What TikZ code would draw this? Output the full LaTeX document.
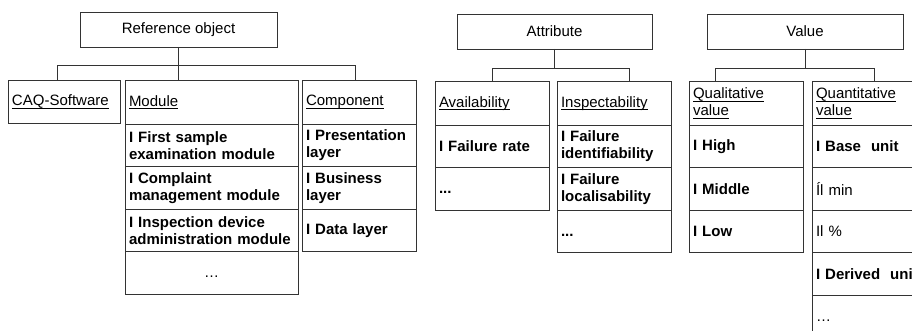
\documentclass[tikz,border=0pt]{standalone}
\usepackage{fontspec}
\setmainfont{Liberation Sans}
\usetikzlibrary{positioning}
% underline at a fixed depth
\newcommand{\uln}[1]{\vtop{\hbox{\raisebox{0pt}[\height][0pt]{#1}}\kern2pt\hrule height 0.7pt}}
\tikzset{
    %Define style for the boxes on top
    topbox/.style={
           rectangle,
           draw=black!80, line width=0.8pt,
           minimum width=#1,
           minimum height=35pt,
           outer sep=0pt,
           font=\fontsize{15}{17}\selectfont,
           text centered},
    %Define style for the column heads
    head/.style={
           rectangle,
           draw=black!80, line width=0.8pt,
           text width=#1,
           minimum height=44pt,
           inner xsep=4pt, inner ysep=2pt,
           outer sep=0pt,
           anchor=north west,
           font=\fontsize{15}{17}\selectfont,
           align=left},
    %Define style for the entries
    item/.style={
           rectangle,
           draw=black!80, line width=0.8pt,
           text width=#1,
           minimum height=42.5pt,
           inner xsep=4pt, inner ysep=2pt,
           outer sep=0pt,
           font=\fontsize{15}{17}\selectfont\bfseries,
           align=left},
    % Define line style
    link/.style={
           draw=black!80,
           line width=0.8pt}
}

\begin{document}
\begin{tikzpicture}[x=1pt,y=1pt, plain/.style={font=\fontsize{15}{17}\selectfont}]
\useasboundingbox (0,0) rectangle (912,-331);
\clip (0,0) rectangle (912,-331);
% top
\node[topbox=197pt, anchor=north west](ref) at (80,-12){Reference object};
\node[topbox=195pt, anchor=north west](attr) at (457,-14){Attribute};
\node[topbox=196pt, anchor=north west](val) at (707,-14){Value};
% reference object
\node[head=104pt, minimum height=43pt](caq) at (8,-80){\uln{CAQ-Software}};
\node[head=165pt](mod) at (125,-80){\uln{Module}};
\node[item=165pt, below=0pt of mod](mod1){I First sample\\examination module};
\node[item=165pt, below=0pt of mod1](mod2){I Complaint\\management module};
\node[item=165pt, below=0pt of mod2](mod3){I Inspection device\\administration module};
\node[item=165pt, below=0pt of mod3, plain, align=center](mod4){\vphantom{I}\ldots};
\node[head=106pt](comp) at (302,-80){\uln{Component}};
\node[item=106pt, below=0pt of comp](comp1){I Presentation\\layer};
\node[item=106pt, below=0pt of comp1](comp2){I Business\\layer};
\node[item=106pt, below=0pt of comp2](comp3){I Data layer};
% attribute
\node[head=106pt](avail) at (435,-81){\uln{Availability}};
\node[item=106pt, below=0pt of avail](avail1){I Failure rate};
\node[item=106pt, below=0pt of avail1](avail2){\vphantom{I}...};
\node[head=106pt](insp) at (557,-81){\uln{Inspectability}};
\node[item=106pt, below=0pt of insp](insp1){I Failure\\identifiability};
\node[item=106pt, below=0pt of insp1](insp2){I Failure\\localisability};
\node[item=106pt, below=0pt of insp2](insp3){\vphantom{I}...};
% value
\node[head=106pt](qual) at (689,-81){\uln{Qualitative}\\\uln{value}};
\node[item=106pt, below=0pt of qual](qual1){I High};
\node[item=106pt, below=0pt of qual1](qual2){I Middle};
\node[item=106pt, below=0pt of qual2](qual3){I Low};
\node[head=116pt](quant) at (812,-81){\uln{Quantitative}\\\uln{value}};
\node[item=116pt, below=0pt of quant](quant1){I Base\ \ unit};
\node[item=116pt, below=0pt of quant1, plain](quant2){Íl min};
\node[item=116pt, below=0pt of quant2, plain](quant3){Il \%};
\node[item=116pt, below=0pt of quant3](quant4){I Derived\ \ unit};
\node[item=116pt, below=0pt of quant4, plain](quant5){\vphantom{I}\ldots};
% links
\path[link]
	(ref.south) -- (ref.south |- mod.north)
	([xshift=-7pt]caq.north) -- ++(0,15) -| ([xshift=-4pt]comp.north)
	(attr.south) -- ++(0,-19)
	(avail.north) -- ++(0,13) -| ([xshift=15pt]insp.north)
	(val.south) -- ++(0,-19)
	([xshift=-31pt]qual.north) -- ++(0,13) -| (quant.north);
\end{tikzpicture}
\end{document}
